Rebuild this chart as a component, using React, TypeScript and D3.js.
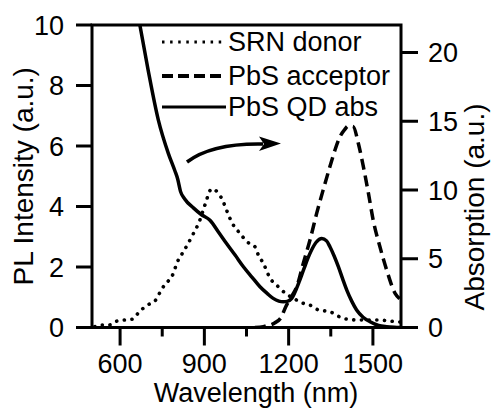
import React from "react";
import * as d3 from "d3";

// ---- data ----
const srnWl = [510, 528, 560, 588, 617, 646, 668, 698, 727, 742, 760, 784, 807, 825, 855, 884, 902, 926, 950, 967, 979, 991, 1003, 1027, 1051, 1080, 1092, 1110, 1134, 1163, 1190, 1220, 1246, 1276, 1306, 1347, 1395, 1442, 1513, 1585, 1600];
const srnVal = [0.03, 0.08, 0.08, 0.21, 0.25, 0.28, 0.52, 0.74, 0.91, 1.16, 1.43, 1.68, 2.23, 2.5, 3.0, 3.55, 4.05, 4.58, 4.44, 4.16, 3.88, 3.61, 3.39, 3.11, 2.84, 2.67, 2.4, 2.12, 1.63, 1.35, 1.12, 0.95, 0.82, 0.74, 0.58, 0.52, 0.3, 0.25, 0.25, 0.19, 0.18];

const accWl = [1080, 1110, 1150, 1175, 1187, 1205, 1229, 1252, 1276, 1300, 1323, 1347, 1365, 1383, 1400, 1412, 1430, 1448, 1466, 1484, 1501, 1525, 1549, 1579, 1595];
const accVal = [0, 0.03, 0.15, 0.36, 0.63, 0.95, 1.35, 2.12, 2.89, 3.78, 4.55, 5.32, 5.87, 6.31, 6.55, 6.66, 6.64, 6.09, 5.32, 4.44, 3.55, 2.67, 1.9, 1.13, 0.95];

const absWl = [665, 700, 736, 772, 795, 805, 815, 830, 861, 890, 920, 950, 979, 1010, 1039, 1070, 1098, 1125, 1145, 1165, 1181, 1195, 1211, 1237, 1255, 1276, 1298, 1318, 1335, 1347, 1362, 1377, 1392, 1407, 1425, 1442, 1465, 1490, 1520, 1549, 1575, 1600];
const absVal = [22.6, 18.7, 15.1, 12.65, 11.4, 10.8, 9.9, 9.35, 8.7, 8.2, 7.8, 6.95, 6.11, 5.25, 4.42, 3.65, 2.96, 2.45, 2.12, 1.92, 1.87, 1.9, 2.12, 3.3, 4.3, 5.39, 6.2, 6.48, 6.3, 5.87, 5.2, 4.42, 3.55, 2.72, 1.9, 1.27, 0.75, 0.42, 0.15, 0.06, 0.02, 0];

const xMajor = [600, 900, 1200, 1500];
const xMinor = [750, 1050, 1350];
const yLeftTicks = [0, 2, 4, 6, 8, 10];
const yRightTicks = [0, 5, 10, 15, 20];
const legendLabels = ["SRN donor", "PbS acceptor", "PbS QD abs"];

const FONT = "'Liberation Sans', Arial, Helvetica, sans-serif";

export default function App() {
  const L = 92, R = 401, T = 25, B = 327.5;
  const x = d3.scaleLinear().domain([500, 1600]).range([L, R]);
  const yL = d3.scaleLinear().domain([0, 10]).range([B, T]);
  const yR = d3.scaleLinear().domain([0, 22]).range([B, T]);

  const mk = (xs: number[], ys: number[], ys2: d3.ScaleLinear<number, number>) =>
    d3.line<number>()
      .x((_, i) => x(xs[i]))
      .y((d) => ys2(d))
      .curve(d3.curveMonotoneX)(ys) as string;

  const srnPath = mk(srnWl, srnVal, yL);
  const accPath = mk(accWl, accVal, yL);
  const absPath = mk(absWl, absVal, yR);

  const lw = 3.5;
  const tickFs = 27;
  const titleFs = 27;
  const legendY = [42, 76, 107];
  const legendStyles = [
    { dash: "2.5 5.6", w: 3 },
    { dash: "11 5", w: 4 },
    { dash: "none", w: 3 },
  ];

  return (
    <svg width={492} height={408} style={{ position: "absolute", left: 0, top: 0, background: "#fff" }}
      fontFamily={FONT}>
      <defs>
        <clipPath id="plotclip">
          <rect x={L} y={T} width={R - L} height={B - T} />
        </clipPath>
      </defs>
      <rect x={0} y={0} width={492} height={408} fill="#fff" />

      {/* curves */}
      <g clipPath="url(#plotclip)" fill="none" stroke="#000">
        <path d={srnPath} strokeWidth={3.6} strokeDasharray="0.1 7.6" strokeLinecap="round" />
        <path d={accPath} strokeWidth={lw} strokeDasharray="11 6" />
        <path d={absPath} strokeWidth={lw} strokeLinejoin="round" />
      </g>

      {/* frame */}
      <rect x={L} y={T} width={R - L} height={B - T} fill="none" stroke="#000" strokeWidth={3} />

      {/* left ticks */}
      {yLeftTicks.map((t) => (
        <g key={"l" + t}>
          <line x1={L - 16} x2={L} y1={yL(t)} y2={yL(t)} stroke="#000" strokeWidth={3} />
          <text x={64} y={yL(t)} dy="0.36em" textAnchor="end" fontSize={tickFs}>{t}</text>
        </g>
      ))}

      {/* right ticks */}
      {yRightTicks.map((t) => (
        <g key={"r" + t}>
          <line x1={R} x2={R + 17} y1={yR(t)} y2={yR(t)} stroke="#000" strokeWidth={3} />
          <text x={428} y={yR(t)} dy="0.36em" textAnchor="start" fontSize={tickFs}>{t}</text>
        </g>
      ))}

      {/* bottom ticks */}
      {xMajor.map((t) => (
        <g key={"b" + t}>
          <line x1={x(t)} x2={x(t)} y1={B} y2={B + 18} stroke="#000" strokeWidth={3} />
          <text x={x(t)} y={373} textAnchor="middle" fontSize={tickFs}>{t}</text>
        </g>
      ))}
      {xMinor.map((t) => (
        <line key={"m" + t} x1={x(t)} x2={x(t)} y1={B} y2={B + 9} stroke="#000" strokeWidth={3} />
      ))}

      {/* axis titles */}
      <text x={256} y={402} textAnchor="middle" fontSize={titleFs}>Wavelength (nm)</text>
      <text transform={`translate(33,${(T + B) / 2}) rotate(-90)`} textAnchor="middle" fontSize={titleFs + 1}>PL Intensity (a.u.)</text>
      <text transform={`translate(484,207) rotate(-90)`} textAnchor="middle" fontSize={titleFs + 1}>Absorption (a.u.)</text>

      {/* legend */}
      {legendLabels.map((lab, i) => (
        <g key={lab}>
          <line x1={162} x2={226} y1={legendY[i]} y2={legendY[i]} stroke="#000"
            strokeWidth={legendStyles[i].w} strokeDasharray={legendStyles[i].dash} />
          <text x={228} y={legendY[i] + 9} fontSize={tickFs}>{lab}</text>
        </g>
      ))}

      {/* curved arrow */}
      <path d="M187,162 Q212,143 263,144" fill="none" stroke="#000" strokeWidth={3.5} />
      <path d="M281,143.5 L259,136.5 L264,144 L259,151 Z" fill="#000" />
    </svg>
  );
}
